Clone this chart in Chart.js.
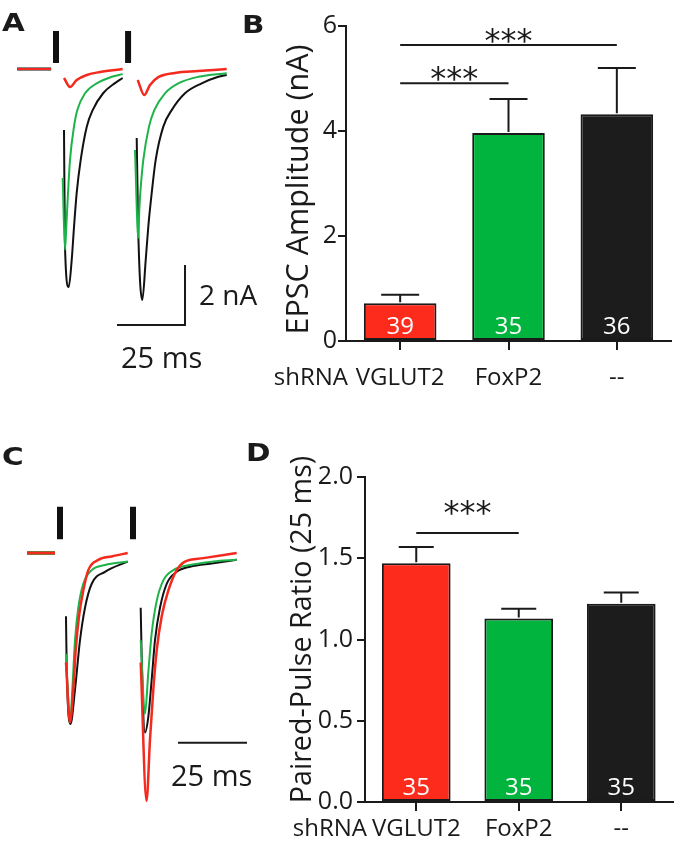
<!DOCTYPE html>
<html>
<head>
<meta charset="utf-8">
<script src="https://cdn.jsdelivr.net/npm/chart.js@4.4.1/dist/chart.umd.min.js"></script>
<style>
  html, body { margin: 0; padding: 0; background: #fff; }
  body { width: 674px; height: 853px; position: relative; overflow: hidden; font-family: "Open Sans", sans-serif; color: #1a1a1a; }
  canvas { position: absolute; }
  .letter { position: absolute; font: bold 25px "DejaVu Sans", sans-serif; line-height: 1; z-index: 2; transform: scaleX(1.18); transform-origin: left top; }
  .bar-label { position: absolute; font-size: 28px; line-height: 1; white-space: nowrap; z-index: 2; }
</style>
</head>
<body>
<canvas id="traceA" width="250" height="400" style="left:0;top:0"></canvas>
<canvas id="chartB" width="434" height="400" style="left:240px;top:0"></canvas>
<canvas id="traceC" width="250" height="433" style="left:0;top:420px"></canvas>
<canvas id="chartD" width="434" height="433" style="left:240px;top:420px"></canvas>

<div class="letter" style="left:2px;top:10px">A</div>
<div class="letter" style="left:242px;top:12px">B</div>
<div class="letter" style="left:2px;top:444px">C</div>
<div class="letter" style="left:246px;top:440px">D</div>
<div class="bar-label" style="left:199px;top:280px">2 nA</div>
<div class="bar-label" style="left:121px;top:342px;font-size:29px">25 ms</div>
<div class="bar-label" style="left:171px;top:760px;font-size:29px">25 ms</div>

<script>
const ink = '#1a1a1a';
const family = '"Open Sans", sans-serif';

// bar charts (B, D)
const groups = ['VGLUT2', 'FoxP2', '--'];
const rowLabel = 'shRNA';
const groupColors = ['#fc2b1c', '#00b43d', '#1c1c1c'];

const epscMean = [0.72, 3.96, 4.32];
const epscSem = [0.16, 0.65, 0.88];
const epscN = [39, 35, 36];
const epscTicks = [0, 2, 4, 6];
const epscSig = [[0, 1, 4.91], [0, 2, 5.64]];   // [from group, to group, bracket height]

const pprMean = [1.47, 1.13, 1.22];
const pprSem = [0.10, 0.06, 0.07];
const pprN = [35, 35, 35];
const pprTicks = [0, 0.5, 1.0, 1.5, 2.0];
const pprSig = [[0, 1, 1.655]];

// example traces, panel A: [ms, nA], stimulus at 0 and 26.5 ms
const stimA = [0, 26.5];
const stimAExtent = [0.2, 1.27];
const aBase = [[-14.3, 0], [-1.8, 0]];
const aBlack1 = [[2.94, -2.03], [3.31, -5.93], [4.67, -7.27], [5.77, -6.37], [6.62, -5.27], [7.61, -4.13], [9.08, -3.03], [11.29, -1.93], [13.49, -1.37], [17.39, -0.8], [21.69, -0.47], [24.52, -0.3]];
const aBlack2 = [[29.67, -2.3], [30.26, -5.47], [31.73, -7.7], [32.98, -6.37], [33.93, -5.26], [35.18, -4.14], [36.65, -3.03], [39.45, -1.92], [42.54, -1.37], [47.43, -0.81], [53.57, -0.48], [59.67, -0.26], [62.76, -0.2]];
const aGreen1 = [[2.46, -3.63], [3.31, -6.03], [3.79, -5.26], [4.41, -4.14], [5.15, -3.03], [6.62, -1.92], [7.83, -1.37], [10.66, -0.81], [14.96, -0.48], [20.48, -0.26], [24.52, -0.17]];
const aGreen2 = [[29.04, -2.7], [30.26, -5.63], [30.63, -4.7], [30.99, -4.14], [32.1, -3.03], [34.19, -1.92], [36.14, -1.37], [40.07, -0.81], [44.96, -0.48], [52.32, -0.26], [62.76, -0.14]];
const aRed1 = [[2.94, -0.3], [5.15, -0.6], [7.61, -0.37], [11.29, -0.2], [16.18, -0.1], [24.52, 0]];
const aRed2 = [[30.04, -0.37], [32.46, -0.87], [34.56, -0.53], [37.61, -0.27], [43.75, -0.13], [52.32, -0.07], [62.76, 0]];
const aScaleBar = [[22.43, -8.53], [47.43, -8.53], [47.43, -6.53]];   // 25 ms, 2 nA

// example traces, panel C: [ms, normalised to first EPSC]
const stimC = [0, 26.45];
const stimCExtent = [0.08, 0.27];
const cBase = [[-11.96, 0], [-1.81, 0]];
const cBlack1 = [[2.17, -0.37], [2.43, -0.67], [3.8, -1.0], [5.43, -0.8], [7.25, -0.51], [9.06, -0.32], [11.49, -0.18], [16.3, -0.11], [24.53, -0.05]];
const cGreen1 = [[2.17, -0.59], [3.01, -0.86], [3.62, -0.99], [4.46, -0.8], [5.43, -0.51], [6.63, -0.32], [8.44, -0.18], [11.49, -0.1], [16.3, -0.07], [24.53, -0.05]];
const cRed1 = [[2.17, -0.64], [3.62, -0.99], [4.82, -0.8], [5.69, -0.57], [6.88, -0.37], [8.44, -0.22], [10.25, -0.1], [13.88, -0.04], [18.73, -0.02], [24.53, 0]];
const cBlack2 = [[29.24, -0.32], [29.6, -0.61], [30.8, -1.05], [31.99, -0.96], [33.22, -0.74], [34.42, -0.51], [36.23, -0.32], [38.66, -0.18], [42.28, -0.11], [47.1, -0.08], [55.54, -0.06], [64.02, -0.04]];
const cGreen2 = [[29.24, -0.51], [30.8, -0.94], [31.99, -0.7], [33.22, -0.47], [35.04, -0.28], [37.43, -0.16], [41.05, -0.1], [47.1, -0.07], [55.54, -0.05], [64.02, -0.04]];
const cRed2 = [[29.24, -0.64], [31.34, -1.45], [32.61, -1.09], [33.8, -0.8], [35.04, -0.57], [36.85, -0.37], [39.24, -0.22], [42.28, -0.1], [45.29, -0.05], [51.92, -0.03], [64.02, 0]];
const cScaleBar = [[42.75, -1.11], [67.75, -1.11]];   // 25 ms

const traceRed = '#f42a1e';
const traceGreen = '#1eb34a';
const traceBlack = '#111111';

// pixel calibration of the trace panels (origin = first stimulus, baseline)
const calA = { x0: 56, kx: 2.72, y0: 69, ky: 30, w: 250, h: 400 };
const calC = { x0: 60, kx: 2.76, y0: 133, ky: 171, w: 250, h: 433 };

function line(pts, color, width, smooth) {
    return {
        data: pts.map(p => ({ x: p[0], y: p[1] })),
        showLine: true,
        borderColor: color,
        borderWidth: width,
        pointRadius: 0,
        cubicInterpolationMode: smooth ? 'monotone' : 'default',
        tension: 0,
        borderCapStyle: 'butt'
    };
}

function stimLines(times, extent) {
    return times.map(t => line([[t, extent[1]], [t, extent[0]]], traceBlack, 6, false));
}

function traceChart(id, cal, datasets) {
    return new Chart(document.getElementById(id), {
        type: 'scatter',
        data: { datasets: datasets },
        options: {
            responsive: false,
            animation: false,
            layout: { padding: 0 },
            plugins: { legend: { display: false }, tooltip: { enabled: false } },
            scales: {
                x: { type: 'linear', display: false, min: -cal.x0 / cal.kx, max: (cal.w - cal.x0) / cal.kx },
                y: { type: 'linear', display: false, min: -(cal.h - cal.y0) / cal.ky, max: cal.y0 / cal.ky }
            }
        }
    });
}

// first dataset is drawn on top
traceChart('traceA', calA, [
    line(aBase, traceRed, 2, false),
    line(aRed1, traceRed, 2.5, true),
    line(aRed2, traceRed, 2.5, true),
    line(aGreen1, traceGreen, 2, true),
    line(aGreen2, traceGreen, 2, true),
    line(aBase, traceBlack, 3, false),
    line(aBlack1, traceBlack, 2, true),
    line(aBlack2, traceBlack, 2, true),
    line(aScaleBar, ink, 2, false),
    ...stimLines(stimA, stimAExtent)
]);

traceChart('traceC', calC, [
    line(cBase, traceRed, 3, false),
    line(cRed1, traceRed, 2.5, true),
    line(cRed2, traceRed, 2.5, true),
    line(cBase, traceGreen, 4, false),
    line(cGreen1, traceGreen, 2, true),
    line(cGreen2, traceGreen, 2, true),
    line(cBlack1, traceBlack, 2, true),
    line(cBlack2, traceBlack, 2, true),
    line(cScaleBar, ink, 2, false),
    ...stimLines(stimC, stimCExtent)
]);

// axis title, error bars, n inside bars, significance brackets, row label
const barExtras = {
    id: 'barExtras',
    afterDraw(chart, args, o) {
        const { ctx, chartArea, scales: { x, y } } = chart;
        const bars = chart.getDatasetMeta(0).data;
        ctx.save();
        ctx.strokeStyle = ink;
        ctx.fillStyle = ink;
        ctx.lineWidth = 2;

        ctx.save();
        ctx.translate(o.titleX, (chartArea.top + chartArea.bottom) / 2 + o.titleShift);
        ctx.rotate(-Math.PI / 2);
        ctx.font = o.titleSize + 'px ' + family;
        ctx.textAlign = 'center';
        ctx.textBaseline = 'middle';
        ctx.fillText(o.title, 0, 0);
        ctx.restore();

        bars.forEach((bar, i) => {
            const top = y.getPixelForValue(o.mean[i] + o.sem[i]);
            ctx.beginPath();
            ctx.moveTo(bar.x, bar.y - 1);
            ctx.lineTo(bar.x, top);
            ctx.moveTo(bar.x - o.cap / 2, top);
            ctx.lineTo(bar.x + o.cap / 2, top);
            ctx.stroke();
        });

        ctx.fillStyle = '#fff';
        ctx.font = '24px ' + family;
        ctx.textAlign = 'center';
        ctx.textBaseline = 'alphabetic';
        bars.forEach((bar, i) => ctx.fillText(String(o.n[i]), bar.x, y.getPixelForValue(0) - o.nGap));

        ctx.fillStyle = ink;
        o.sig.forEach(([a, b, level]) => {
            const yy = y.getPixelForValue(level);
            const xa = x.getPixelForValue(a);
            const xb = x.getPixelForValue(b);
            ctx.beginPath();
            ctx.moveTo(xa, yy);
            ctx.lineTo(xb, yy);
            ctx.stroke();
            ctx.font = '32px "DejaVu Sans", sans-serif';
            ctx.fillText('***', (xa + xb) / 2, yy - o.starLift + 0.57 * 32);
        });

        ctx.font = '24px ' + family;
        ctx.textAlign = 'right';
        ctx.textBaseline = 'middle';
        ctx.fillText(rowLabel, chartArea.left + 2, x.top + 9 + o.xPad + 24 * 1.2 / 2);
        ctx.restore();
    }
};

function barChart(id, cfg) {
    return new Chart(document.getElementById(id), {
        type: 'bar',
        data: {
            labels: groups,
            datasets: [{
                data: cfg.mean,
                backgroundColor: groupColors,
                borderColor: ink,
                borderWidth: 2,
                borderSkipped: false,
                barPercentage: 0.67,
                categoryPercentage: 1
            }]
        },
        options: {
            responsive: false,
            animation: false,
            layout: { padding: { top: cfg.top, right: cfg.right, left: 0, bottom: 0 } },
            plugins: {
                legend: { display: false },
                tooltip: { enabled: false },
                barExtras: cfg.extras
            },
            scales: {
                x: {
                    grid: { display: true, drawOnChartArea: false, drawTicks: true, tickLength: 9, offset: false, color: ink, lineWidth: 2 },
                    border: { display: true, color: ink, width: 2 },
                    ticks: { color: ink, font: { family: family, size: 24 }, padding: cfg.extras.xPad },
                    afterFit: s => { s.height = cfg.xHeight; }
                },
                y: {
                    min: 0,
                    max: cfg.ticks[cfg.ticks.length - 1],
                    afterBuildTicks: s => { s.ticks = cfg.ticks.map(v => ({ value: v })); },
                    grid: { display: true, drawOnChartArea: false, drawTicks: true, tickLength: 8, color: ink, lineWidth: 2 },
                    border: { display: true, color: ink, width: 2 },
                    ticks: { color: ink, font: { family: family, size: 25 }, padding: cfg.yPad, callback: cfg.fmt },
                    afterFit: s => { s.width = cfg.yWidth; }
                }
            }
        },
        plugins: [barExtras]
    });
}

barChart('chartB', {
    mean: epscMean, ticks: epscTicks,
    top: 26, right: 3, yWidth: 106, xHeight: 59, yPad: 1, fmt: v => String(v),
    extras: { title: 'EPSC Amplitude (nA)', titleSize: 30.5, titleX: 59, titleShift: 6,
              mean: epscMean, sem: epscSem, n: epscN, sig: epscSig, cap: 38, nGap: 7, starLift: 12, xPad: 14 }
});

barChart('chartD', {
    mean: pprMean, ticks: pprTicks,
    top: 57, right: 1.5, yWidth: 125, xHeight: 51, yPad: 4, fmt: v => v.toFixed(1),
    extras: { title: 'Paired-Pulse Ratio (25 ms)', titleSize: 28.7, titleX: 63, titleShift: -10,
              mean: pprMean, sem: pprSem, n: pprN, sig: pprSig, cap: 35, nGap: 7, starLift: 28, xPad: 4 }
});
</script>
</body>
</html>
